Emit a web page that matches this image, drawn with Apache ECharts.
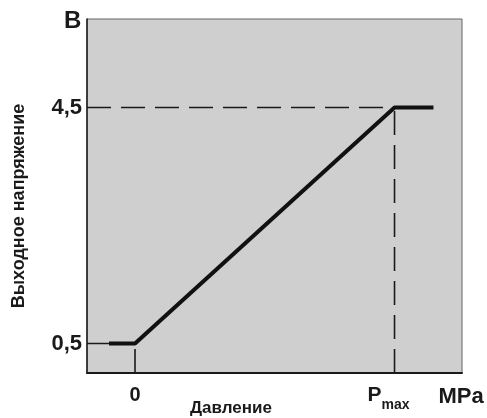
<!DOCTYPE html>
<html>
<head>
<meta charset="utf-8">
<script src="https://cdn.jsdelivr.net/npm/echarts@6/dist/echarts.min.js"></script>
<style>html,body{margin:0;padding:0;background:#fff;}#c{width:487px;height:418px;}</style>
</head>
<body>
<div id="c"></div>
<script>
// Data
const xTicks = [0, 10];
const xTickLabels = ['0', 'Pmax'];
const yTicks = [0.5, 4.5];
const yTickLabels = ['0,5', '4,5'];
const curveX = [-1, 0, 10, 11.5];
const curveY = [0.5, 0.5, 4.5, 4.5];
const guideLow = [[-1.85, 0.5], [0, 0.5]];
const guideHigh = [[-1.85, 4.5], [10, 4.5]];
const guideV0 = [[0, 0], [0, 0.5]];
const guideVmax = [[10, 0], [10, 4.5]];
const xMin = -1.85, xMax = 12.6, yMin = 0, yMax = 6;

const font = '"Liberation Sans", Arial, sans-serif';
const ink = '#1a1a1a';
const chart = echarts.init(document.getElementById('c'), null, {renderer: 'canvas'});
const dash = {color: ink, width: 1.6, type: [24, 10]};
const curve = curveX.map((x, i) => [x, curveY[i]]);

chart.setOption({
  animation: false,
  backgroundColor: '#fff',
  grid: {left: 87, right: 25, top: 19, bottom: 45, show: true,
         backgroundColor: '#cfcfcf', borderColor: '#666', borderWidth: 1},
  xAxis: {
    type: 'value', min: xMin, max: xMax,
    name: 'MPa', nameLocation: 'end', nameGap: -1,
    nameTextStyle: {fontFamily: font, fontWeight: 'bold', fontSize: 22, color: ink,
                    align: 'center', verticalAlign: 'top', padding: [13, 0, 0, 0]},
    axisLine: {show: true, onZero: false, lineStyle: {color: ink, width: 2}},
    axisTick: {show: false},
    splitLine: {show: false},
    axisLabel: {
      customValues: xTicks, margin: 12,
      fontFamily: font, fontWeight: 'bold', fontSize: 20, color: ink,
      formatter: function (v) {
        const i = xTicks.indexOf(v);
        const t = i >= 0 ? xTickLabels[i] : '';
        if (t === 'Pmax') return '{p|P}{s|max}';
        return t;
      },
      rich: {
        p: {fontFamily: font, fontWeight: 'bold', fontSize: 21, color: ink, verticalAlign: 'bottom'},
        s: {fontFamily: font, fontWeight: 'bold', fontSize: 14, color: ink, verticalAlign: 'bottom', padding: [0, 12, -6, 0]}
      }
    }
  },
  yAxis: {
    type: 'value', min: yMin, max: yMax,
    name: 'Выходное напряжение', nameLocation: 'middle', nameGap: 59,
    nameTextStyle: {fontFamily: font, fontWeight: 'bold', fontSize: 18, color: ink, padding: [0, 0, 0, -20]},
    axisLine: {show: true, onZero: false, lineStyle: {color: ink, width: 1.5}},
    axisTick: {show: false},
    splitLine: {show: false},
    axisLabel: {
      customValues: yTicks, margin: 5,
      fontFamily: font, fontWeight: 'bold', fontSize: 22, color: ink,
      formatter: function (v) {
        const i = yTicks.indexOf(v);
        return i >= 0 ? yTickLabels[i] : '';
      }
    }
  },
  graphic: [
    {type: 'text', left: 64, top: 9, style: {text: 'B', font: 'bold 24px ' + font, fill: ink}},
    {type: 'text', left: 190, top: 400, style: {text: 'Давление', font: 'bold 17px ' + font, fill: ink}}
  ],
  series: [
    {type: 'line', data: guideLow, symbol: 'none', lineStyle: dash, z: 2},
    {type: 'line', data: guideHigh, symbol: 'none', lineStyle: dash, z: 2},
    {type: 'line', data: guideV0, symbol: 'none', lineStyle: dash, z: 2},
    {type: 'line', data: guideVmax, symbol: 'none', lineStyle: dash, z: 2},
    {type: 'line', data: curve, symbol: 'none', lineStyle: {color: '#111', width: 4}, z: 3}
  ]
});
</script>
</body>
</html>
